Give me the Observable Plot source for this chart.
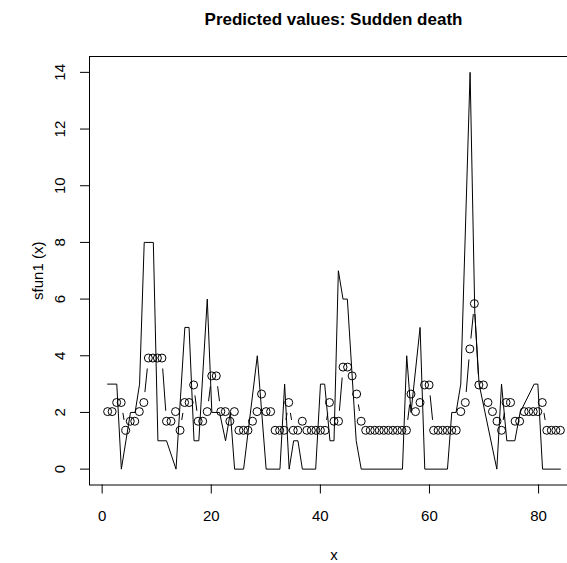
<!DOCTYPE html>
<html><head><meta charset="utf-8">
<script src="https://cdn.jsdelivr.net/npm/d3@7"></script>
<script src="https://cdn.jsdelivr.net/npm/@observablehq/plot@0.6"></script>
<style>
body{margin:0;background:#fff;overflow:hidden;font-family:"Liberation Sans",Arial,sans-serif;}
#title{height:40px;line-height:40px;margin-left:89px;width:489px;text-align:center;font-weight:bold;font-size:17px;color:#000;white-space:nowrap}
#chart{width:578px;height:523px;}
#chart svg{max-width:none !important;display:block;}
</style></head><body>
<div id="title">Predicted values: Sudden death</div>
<div id="chart"></div>
<script>
// Predicted values (circles), evenly spaced x from 1 to 84
const circleX = [1,1.83,2.66,3.49,4.32,5.15,5.98,6.81,7.64,8.47,9.3,10.13,10.96,11.79,12.62,13.45,14.28,15.11,15.94,16.77,17.6,18.43,19.26,20.09,20.92,21.75,22.58,23.41,24.24,25.07,25.9,26.73,27.56,28.39,29.22,30.05,30.88,31.71,32.54,33.37,34.2,35.03,35.86,36.69,37.52,38.35,39.18,40.01,40.84,41.67,42.5,43.33,44.16,44.99,45.82,46.65,47.48,48.31,49.14,49.97,50.8,51.63,52.46,53.29,54.12,54.95,55.78,56.61,57.44,58.27,59.1,59.93,60.76,61.59,62.42,63.25,64.08,64.91,65.74,66.57,67.4,68.23,69.06,69.89,70.72,71.55,72.38,73.21,74.04,74.87,75.7,76.53,77.36,78.19,79.02,79.85,80.68,81.51,82.34,83.17,84];
const predY = [2.03,2.03,2.35,2.35,1.37,1.69,1.69,2.03,2.35,3.92,3.92,3.92,3.92,1.69,1.69,2.03,1.37,2.35,2.35,2.97,1.69,1.69,2.03,3.29,3.29,2.03,2.03,1.69,2.03,1.37,1.37,1.37,1.69,2.03,2.65,2.03,2.03,1.37,1.37,1.37,2.35,1.37,1.37,1.69,1.37,1.37,1.37,1.37,1.37,2.35,1.69,1.69,3.6,3.6,3.29,2.65,1.69,1.37,1.37,1.37,1.37,1.37,1.37,1.37,1.37,1.37,1.37,2.65,2.03,2.35,2.97,2.97,1.37,1.37,1.37,1.37,1.37,1.37,2.03,2.35,4.24,5.84,2.97,2.97,2.35,2.03,1.69,1.37,2.35,2.35,1.69,1.69,2.03,2.03,2.03,2.03,2.35,1.37,1.37,1.37,1.37];
// Observed series (solid line) vertices
const lineX = [1,2.68,3.52,5.19,6.04,6.86,7.71,9.38,10.22,11.8,13.54,15.16,15.93,16.84,17.72,19.27,20.11,21.52,22.62,23.5,24.28,25.93,28.44,30.06,32.59,33.45,34.28,35.1,35.89,36.7,39.14,40.02,40.79,41.76,42.5,43.3,44.15,44.95,46.57,47.49,55.05,55.83,56.62,58.28,59.14,63.3,64.09,64.88,65.74,67.45,68.31,69.1,72.35,73.21,74.18,75.65,76.62,79.19,79.87,80.73,84];
const lineY = [3,3,0,2,2,3,8,8,1,1,0,5,5,1,1,6,2,2,1,2,0,0,4,0,0,3,0,1,1,0,0,3,3,1,1,7,6,6,1,0,0,4,2,5,0,0,2,2,3,14,5.5,3,0,3,1,1,2,3,3,0,0];
const xTicks = [0,20,40,60,80];
const yTicks = [0,2,4,6,8,10,12,14];

const W = 578, H = 523, mL = 89, mR = 0, mT = 16, mB = 78.5;
const xDomain = [-2.32, 87.32], yDomain = [-0.56, 14.56];
const sx = d3.scaleLinear(xDomain, [mL, W - mR]);
const sy = d3.scaleLinear(yDomain, [H - mB, mT]);
const GAP = 10.5;
const segs = [];
for (let i = 0; i < circleX.length - 1; i++) {
  const x1 = circleX[i], y1 = predY[i], x2 = circleX[i+1], y2 = predY[i+1];
  const d = Math.hypot(sx(x2) - sx(x1), sy(y2) - sy(y1));
  if (d > 2 * GAP) {
    const f = GAP / d;
    segs.push({x1: x1 + f*(x2-x1), y1: y1 + f*(y2-y1), x2: x2 - f*(x2-x1), y2: y2 - f*(y2-y1)});
  }
}
const pts = circleX.map((x, i) => ({x, y: predY[i]}));
const obs = lineX.map((x, i) => ({x, y: lineY[i]}));

const chart = Plot.plot({
  width: W, height: H,
  marginLeft: mL, marginRight: mR, marginTop: mT, marginBottom: mB,
  x: {domain: xDomain},
  y: {domain: yDomain},
  style: {fontFamily: '"Liberation Sans", Arial, sans-serif', fontSize: "15px", color: "black", background: "white", overflow: "visible", maxWidth: "none"},
  marks: [
    Plot.frame({stroke: "black"}),
    Plot.axisX(xTicks, {tickSize: 9, tickPadding: 16, label: null, fontSize: 15}),
    Plot.axisY(yTicks, {tickSize: 9, tickFormat: () => "", label: null}),
    Plot.text(yTicks, {y: d => d, text: d => String(d), frameAnchor: "left", dx: -29, rotate: -90, textAnchor: "middle", lineAnchor: "middle", fontSize: 15}),
    Plot.text(["sfun1 (x)"], {text: d => d, frameAnchor: "left", dx: -51, rotate: -90, textAnchor: "middle", lineAnchor: "middle", fontSize: 15}),
    Plot.text(["x"], {text: d => d, frameAnchor: "bottom", dy: 70.5, lineAnchor: "middle", fontSize: 15}),
    Plot.line(obs, {x: "x", y: "y", stroke: "black", strokeWidth: 1}),
    Plot.link(segs, {x1: "x1", y1: "y1", x2: "x2", y2: "y2", stroke: "black", strokeWidth: 1}),
    Plot.dot(pts, {x: "x", y: "y", r: 4, stroke: "black", fill: "none", strokeWidth: 1})
  ]
});
chart.style.maxWidth = "none";
chart.style.height = H + "px";
document.getElementById("chart").appendChild(chart);
</script></body></html>
